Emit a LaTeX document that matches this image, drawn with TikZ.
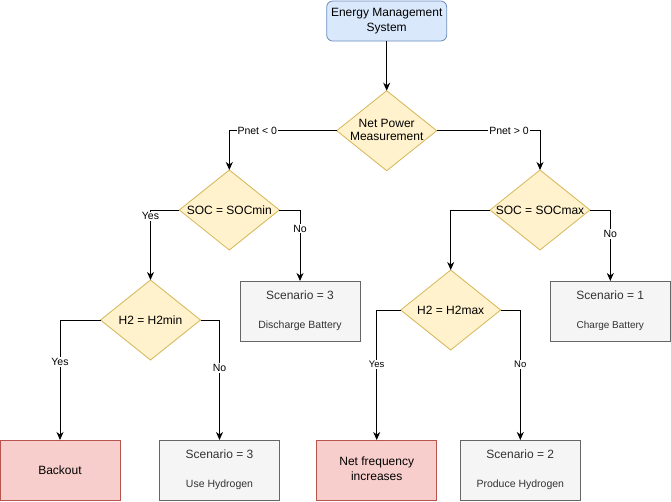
\documentclass[tikz,border=0pt]{standalone}
\usepackage{fontspec}
\setmainfont{Liberation Sans}
\usetikzlibrary{shapes.geometric,arrows.meta}
\definecolor{bluefill}{HTML}{DAE8FC}
\definecolor{bluedraw}{HTML}{6C8EBF}
\definecolor{yelfill}{HTML}{FFF2CC}
\definecolor{yeldraw}{HTML}{D6B656}
\definecolor{grayfill}{HTML}{F5F5F5}
\definecolor{graydraw}{HTML}{666666}
\definecolor{graytext}{HTML}{333333}
\definecolor{redfill}{HTML}{F8CECC}
\definecolor{reddraw}{HTML}{B85450}
\newcommand{\twol}[2]{\raisebox{4pt}{\begin{tabular}{@{}c@{}}#1\\[14pt]#2\end{tabular}}}
\tikzset{
  dec/.style={diamond, draw=yeldraw, fill=yelfill, line width=0.8pt, inner sep=0pt, outer sep=0pt,
    minimum width=100pt, minimum height=80pt, font=\fontsize{12}{14.4}\selectfont},
  gbox/.style={rectangle, draw=graydraw, fill=grayfill, line width=0.8pt, inner sep=0pt, outer sep=0pt,
    minimum width=120pt, minimum height=60pt, text=graytext, font=\fontsize{12}{14.4}\selectfont},
  rbox/.style={rectangle, draw=reddraw, fill=redfill, line width=0.8pt, inner sep=0pt, outer sep=0pt,
    minimum width=120pt, minimum height=60pt, align=center, font=\fontsize{12}{14.4}\selectfont},
  arr/.style={draw=black, line width=1pt, -{Stealth[length=8pt,width=7pt,inset=2.5pt]}},
  lbl/.style={fill=white, inner sep=1pt, font=\fontsize{10.5}{12}\selectfont},
  slbl/.style={fill=white, inner sep=1pt, font=\fontsize{9.5}{11}\selectfont},
}
\begin{document}
\begin{tikzpicture}[x=1pt,y=-1pt]
\useasboundingbox (0,0) rectangle (671,501);
\node[rectangle, rounded corners=6pt, draw=bluedraw, fill=bluefill, line width=0.8pt,
  minimum width=120pt, minimum height=40pt, inner sep=0pt, align=center,
  font=\fontsize{12}{14.4}\selectfont] (ems) at (386.7,21) {Energy Management\\System};
\node[dec] (npm) at (386.7,130.7) {\makebox[0pt]{\begin{tabular}{@{}c@{}}Net Power\\[-1.5pt]Measurement\end{tabular}}};
\node[dec] (socmin) at (229.3,210) {\makebox[0pt]{SOC = SOCmin}};
\node[dec] (socmax) at (540,210) {\makebox[0pt]{SOC = SOCmax}};
\node[dec] (h2min) at (150.5,320) {\makebox[0pt]{H2 = H2min}};
\node[dec] (h2max) at (450.7,310) {\makebox[0pt]{H2 = H2max}};
\node[gbox] (sc3a) at (300,311) {\twol{Scenario = 3}{\fontsize{10.5}{12}\selectfont Discharge Battery}};
\node[gbox] (sc1) at (610.3,311) {\twol{Scenario = 1}{\fontsize{10}{12}\selectfont Charge Battery}};
\node[rbox] (backout) at (60,470) {Backout};
\node[gbox] (sc3b) at (219.5,470) {\twol{Scenario = 3}{\fontsize{10.5}{12}\selectfont Use Hydrogen}};
\node[rbox] (netf) at (376.7,470) {\raisebox{1.5pt}{\begin{tabular}{@{}c@{}}Net frequency\\increases\end{tabular}}};
\node[gbox] (sc2) at (520.3,470) {\twol{Scenario = 2}{\fontsize{10.5}{12}\selectfont Produce Hydrogen}};

\draw[arr] (ems) -- (npm);
\draw[arr] (npm.west) -| node[lbl, pos=0.37] {Pnet < 0} (socmin.north);
\draw[arr] (npm.east) -| node[lbl, pos=0.35] {Pnet > 0} (socmax.north);
\draw[arr] (socmin.west) -| node[lbl, pos=0.545] {Yes} (h2min.north);
\draw[arr] (socmin.east) -| node[lbl, pos=0.63] {No} (sc3a.north);
\draw[arr] (socmax.west) -| (h2max.north);
\draw[arr] (socmax.east) -| node[lbl, pos=0.67] {No} (sc1.north);
\draw[arr] (h2min.west) -| node[lbl, pos=0.675] {Yes} (backout.north);
\draw[arr] (h2min.east) -| node[lbl, pos=0.70] {No} (sc3b.north);
\draw[arr] (h2max.west) -| node[slbl, pos=0.71] {Yes} (netf.north);
\draw[arr] (h2max.east) -| node[slbl, pos=0.71] {No} (sc2.north);
\end{tikzpicture}
\end{document}
